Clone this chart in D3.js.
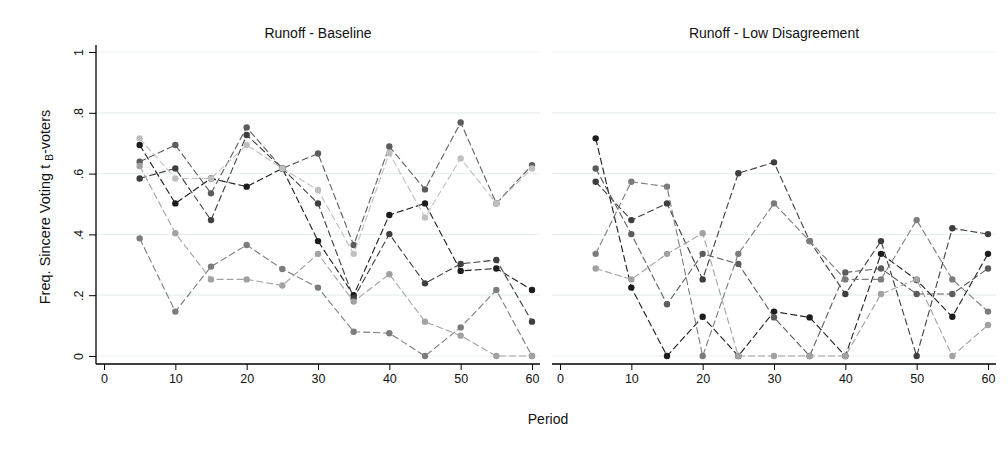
<!DOCTYPE html>
<html>
<head>
<meta charset="utf-8">
<script src="https://cdn.jsdelivr.net/npm/d3@7"></script>
<style>
  body { margin: 0; background: #fff; }
  svg { display: block; font-family: "Liberation Sans", Arial, sans-serif; }
</style>
</head>
<body>
<svg id="chart" width="1008" height="455"></svg>
<script>
// periods on the x axis
const periods = [5, 10, 15, 20, 25, 30, 35, 40, 45, 50, 55, 60];

// Runoff - Baseline, one row per session (dark -> light)
const baseline = [
    [0.694, 0.502, 0.584, 0.557, 0.617, 0.378, 0.200, 0.464, 0.502, 0.280, 0.288, 0.217],
    [0.584, 0.617, 0.447, 0.727, 0.617, 0.502, 0.190, 0.401, 0.239, 0.303, 0.316, 0.113],
    [0.639, 0.694, 0.535, 0.752, 0.617, 0.666, 0.365, 0.689, 0.548, 0.768, 0.502, 0.628],
    [0.387, 0.146, 0.294, 0.365, 0.286, 0.225, 0.080, 0.075, 0.000, 0.094, 0.217, 0.000],
    [0.625, 0.404, 0.252, 0.252, 0.232, 0.336, 0.179, 0.269, 0.113, 0.067, 0.000, 0.000],
    [0.716, 0.584, 0.584, 0.694, 0.617, 0.546, 0.336, 0.667, 0.456, 0.650, 0.502, 0.617],
];

// Runoff - Low Disagreement
const lowDisagreement = [
    [0.716, 0.225, 0.000, 0.129, 0.000, 0.146, 0.127, 0.000, 0.336, 0.250, 0.129, 0.336],
    [0.573, 0.447, 0.502, 0.252, 0.601, 0.637, 0.378, 0.204, 0.378, 0.000, 0.420, 0.401],
    [0.617, 0.401, 0.170, 0.336, 0.303, 0.127, 0.000, 0.275, 0.288, 0.204, 0.204, 0.288],
    [0.336, 0.573, 0.557, 0.000, 0.336, 0.502, 0.378, 0.252, 0.252, 0.447, 0.252, 0.146],
    [0.288, 0.252, 0.336, 0.404, 0.000, 0.000, 0.000, 0.000, 0.204, 0.252, 0.000, 0.102],
];

const panelTitles = ['Runoff - Baseline', 'Runoff - Low Disagreement'];
const yTicks = [0, 0.2, 0.4, 0.6, 0.8, 1];
const yTickLabels = ['0', '.2', '.4', '.6', '.8', '1'];
const xTicks = [0, 10, 20, 30, 40, 50, 60];

const shades = ['#1c1c1c', '#3e3e3e', '#5c5c5c', '#7c7c7c', '#a2a2a2', '#bfbfbf'];

const svg = d3.select('#chart');

const y = d3.scaleLinear().domain([0, 1]).range([356, 52]);
const x = d3.scaleLinear().domain([0, 60]).range([104, 532]);

// plot box (a bit wider than the data range)
const boxLeft = 96, boxRight = 540, boxTop = 45, boxBottom = 364;
const panelShift = [0, 456];

function drawPanel(data, idx) {
    const g = svg.append('g').attr('transform', 'translate(' + panelShift[idx] + ',0)');

    // grid lines
    g.selectAll('line.grid')
        .data(yTicks)
        .enter()
        .append('line')
        .attr('class', 'grid')
        .attr('x1', boxLeft)
        .attr('x2', boxRight)
        .attr('y1', (d) => y(d))
        .attr('y2', (d) => y(d))
        .attr('stroke', '#e9f0f0')
        .attr('stroke-width', 1.2);

    // panel title
    g.append('text')
        .attr('x', (x(0) + x(60)) / 2)
        .attr('y', 38)
        .attr('text-anchor', 'middle')
        .attr('font-size', 14)
        .attr('fill', '#111')
        .text(panelTitles[idx]);

    // x axis
    const xAxis = d3.axisBottom(x).tickValues(xTicks).tickSize(6).tickPadding(4);
    const ax = g.append('g').attr('transform', 'translate(0,' + boxBottom + ')').call(xAxis);
    ax.select('.domain').remove();
    ax.selectAll('.tick line').attr('stroke', '#000');
    ax.selectAll('.tick text').attr('font-size', 12.5).attr('fill', '#111')
        .attr('font-family', '"Liberation Sans", Arial, sans-serif');
    g.append('line')
        .attr('x1', boxLeft).attr('x2', boxRight)
        .attr('y1', boxBottom).attr('y2', boxBottom)
        .attr('stroke', '#000').attr('stroke-width', 1.3);

    // series, dark first so light markers end up on top
    const line = d3.line()
        .x((d, i) => x(periods[i]))
        .y((d) => y(d));

    data.forEach((vals, s) => {
        const col = shades[s];
        g.append('path')
            .datum(vals)
            .attr('d', line)
            .attr('fill', 'none')
            .attr('stroke', col)
            .attr('stroke-width', 1.1)
            .attr('stroke-dasharray', '7,3');
        g.selectAll('circle.s' + s)
            .data(vals)
            .enter()
            .append('circle')
            .attr('class', 's' + s)
            .attr('cx', (d, i) => x(periods[i]))
            .attr('cy', (d) => y(d))
            .attr('r', 3.2)
            .attr('fill', col);
    });
}

drawPanel(baseline, 0);
drawPanel(lowDisagreement, 1);

// y axis on the left panel only
const yAxis = d3.axisLeft(y).tickValues(yTicks).tickSize(7).tickFormat((d, i) => yTickLabels[i]);
const ay = svg.append('g').attr('transform', 'translate(' + boxLeft + ',0)').call(yAxis);
ay.select('.domain').remove();
ay.selectAll('.tick line').attr('stroke', '#000');
ay.selectAll('.tick text')
    .attr('font-size', 12.5)
    .attr('fill', '#111')
    .attr('font-family', '"Liberation Sans", Arial, sans-serif')
    .attr('text-anchor', 'middle')
    .attr('x', 0)
    .attr('dy', null)
    .attr('transform', 'translate(-17,0) rotate(-90)')
    .attr('dominant-baseline', 'central');
svg.append('line')
    .attr('x1', boxLeft).attr('x2', boxLeft)
    .attr('y1', boxTop).attr('y2', boxBottom)
    .attr('stroke', '#000').attr('stroke-width', 1.3);

// y axis title with subscript B
const yTitle = svg.append('text')
    .attr('transform', 'translate(50,' + 207 + ') rotate(-90)')
    .attr('text-anchor', 'middle')
    .attr('font-size', 14.5)
    .attr('fill', '#111');
yTitle.append('tspan').text('Freq. Sincere Voting t ');
yTitle.append('tspan').attr('font-size', 10).attr('dy', 3).text('B');
yTitle.append('tspan').attr('dy', -3).text('-voters');

// x axis title
svg.append('text')
    .attr('x', 548)
    .attr('y', 424)
    .attr('text-anchor', 'middle')
    .attr('font-size', 14)
    .attr('fill', '#111')
    .text('Period');
</script>
</body>
</html>
